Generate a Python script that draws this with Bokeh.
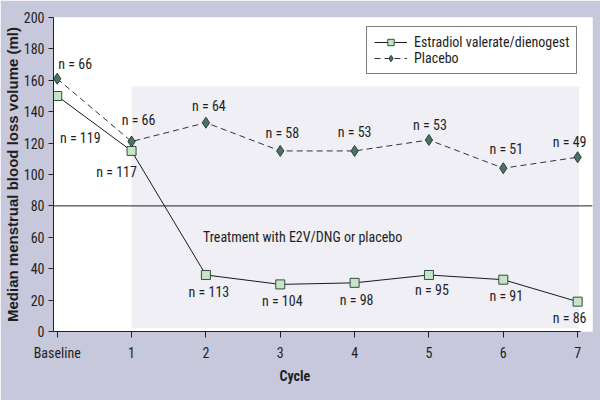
from bokeh.plotting import figure
from bokeh.models import ColumnDataSource, Range1d, Legend, LegendItem, Label, Title
from bokeh.core.properties import value
from bokeh.embed import file_html
from bokeh.resources import INLINE

# median menstrual blood loss (ml) per cycle
cycles = [0, 1, 2, 3, 4, 5, 6, 7]
cycle_labels = ["Baseline", "1", "2", "3", "4", "5", "6", "7"]
e2v_dng = [150, 115, 36, 30, 31, 36, 33, 19]
placebo = [161, 121, 133, 115, 115, 122, 104, 111]
e2v_dng_n = [119, 117, 113, 104, 98, 95, 91, 86]
placebo_n = [66, 66, 64, 58, 53, 53, 51, 49]
heavy_bleeding_ml = 80
treatment_from_cycle = 1
treatment_band_top = 156

FONT = "Roboto Condensed, Liberation Sans"
FS = "14px"
TEXT = "#1e1e1e"
OUTER = "#c8c8dc"
BAND = "#efeff5"
X_START = -0.05
X_END = 7.2

# nudges for the "n = " labels, screen px
e2v_dx = [23, -15, 3, 2, 2, 3, 3, -8]
e2v_dy = [42, 21, 17, 17, 17, 15, 16, 16]
pla_dx = [18, 7, 3, 2, 0, 1, 3, -8]
pla_dy = [-15, -22, -17, -18, -19, -15, -19, -15]

p = figure(width=600, height=400, x_range=Range1d(X_START, X_END), y_range=Range1d(0, 200),
           output_backend="svg", toolbar_location=None,
           min_border_left=53, min_border_right=8, min_border_top=17, min_border_bottom=69,
           background_fill_color="white", border_fill_color=OUTER, outline_line_color=None)
p.grid.visible = False

p.quad(left=treatment_from_cycle, right=cycles[-1] + 0.02, bottom=2, top=treatment_band_top,
       fill_color=BAND, line_color=None)
p.segment(x0=X_START, y0=heavy_bleeding_ml, x1=X_END, y1=heavy_bleeding_ml,
          line_color="#222222", line_width=1)

e_line = p.line(cycles, e2v_dng, line_color="#1a1a1a", line_width=1)
p_line = p.line(cycles, placebo, line_color="#333333", line_width=1, line_dash="6 4")
e_pts = p.scatter(cycles, e2v_dng, marker="square", size=9, fill_color="#c6e5c6",
                  line_color="#2f4f3f", line_width=1)
p_pts = p.scatter(cycles, placebo, marker="diamond", size=11, fill_color="#4b7264",
                  line_color="#274437", line_width=1)

src_e = ColumnDataSource(dict(x=cycles, y=e2v_dng, t=[f"n = {n}" for n in e2v_dng_n],
                              dx=e2v_dx, dy=e2v_dy))
src_p = ColumnDataSource(dict(x=cycles, y=placebo, t=[f"n = {n}" for n in placebo_n],
                              dx=pla_dx, dy=pla_dy))
for src in (src_e, src_p):
    p.text(x="x", y="y", text="t", x_offset="dx", y_offset="dy", source=src,
           text_font=value(FONT), text_font_size=FS, text_color=TEXT,
           text_align="center", text_baseline="middle")

p.add_layout(Label(x=2, y=60, x_offset=-3, text="Treatment with E2V/DNG or placebo",
                   text_font=FONT, text_font_size=FS, text_color=TEXT,
                   text_baseline="middle"))

# axes
xa = p.xaxis[0]
xa.ticker = cycles
xa.major_label_overrides = {c: l for c, l in zip(cycles, cycle_labels)}
xa.bounds = (X_START, 7.04)
ya = p.yaxis[0]
ya.ticker = list(range(0, 201, 20))
ya.bounds = (0, 200)
ya.axis_label = "Median menstrual blood loss volume (ml)"
for ax in (xa, ya):
    ax.axis_line_color = "#222222"
    ax.major_tick_line_color = "#222222"
    ax.minor_tick_line_color = None
    ax.major_tick_in = 0
    ax.major_tick_out = 6
    ax.major_label_text_font = FONT
    ax.major_label_text_font_size = FS
    ax.major_label_text_color = TEXT
ya.major_tick_out = 5
ya.axis_label_text_font = "Liberation Sans"
ya.axis_label_text_font_style = "bold"
ya.axis_label_text_color = TEXT
ya.axis_label_text_font_size = "15px"
xa.major_label_standoff = 7
ya.major_label_standoff = 4
ya.axis_label_standoff = 0

p.add_layout(Title(text="Cycle", align="left", offset=226, standoff=4,
                   text_font=FONT, text_font_size=FS, text_font_style="bold",
                   text_color=TEXT), "below")

legend = Legend(items=[LegendItem(label="Estradiol valerate/dienogest", renderers=[e_line, e_pts]),
                       LegendItem(label="Placebo", renderers=[p_line, p_pts])],
                location=(313, 257), padding=7, spacing=0,
                glyph_width=33, glyph_height=16, label_height=16, label_standoff=7,
                label_text_font=FONT, label_text_font_size=FS, label_text_color=TEXT,
                border_line_color="black", border_line_width=1,
                background_fill_color="white", background_fill_alpha=1)
p.add_layout(legend)

open("out.html", "w").write(file_html(p, INLINE))
